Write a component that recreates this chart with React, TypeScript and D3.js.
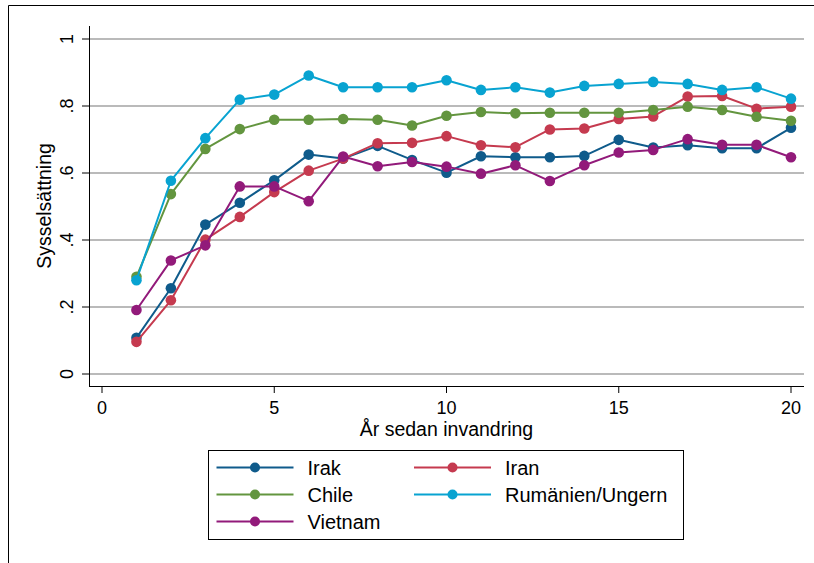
import React from "react";
import * as d3 from "d3";

const years = [1,2,3,4,5,6,7,8,9,10,11,12,13,14,15,16,17,18,19,20];
const irak = [0.108,0.256,0.446,0.511,0.578,0.655,0.643,0.681,0.639,0.601,0.650,0.647,0.647,0.651,0.699,0.676,0.683,0.674,0.674,0.735];
const iran = [0.096,0.220,0.401,0.469,0.543,0.607,0.643,0.689,0.690,0.710,0.683,0.677,0.730,0.733,0.761,0.769,0.828,0.830,0.792,0.798];
const chile = [0.290,0.537,0.672,0.731,0.759,0.759,0.761,0.759,0.742,0.771,0.782,0.778,0.780,0.780,0.780,0.788,0.798,0.788,0.768,0.756];
const rumanien = [0.280,0.577,0.704,0.819,0.834,0.891,0.856,0.856,0.856,0.877,0.848,0.856,0.840,0.860,0.866,0.872,0.866,0.848,0.856,0.822];
const vietnam = [0.191,0.339,0.384,0.560,0.560,0.516,0.649,0.620,0.633,0.619,0.598,0.623,0.576,0.623,0.661,0.669,0.701,0.684,0.684,0.647];

const seriesNames = ["Irak","Iran","Chile","Rumänien/Ungern","Vietnam"];
const seriesColors = ["#0f5b8b","#c53a4f","#63953f","#08a3d1","#921a7a"];
const seriesValues = [irak, iran, chile, rumanien, vietnam];

const xTicks = [0,5,10,15,20];
const yTicks = [0,0.2,0.4,0.6,0.8,1];
const yTickLabels = ["0",".2",".4",".6",".8","1"];
const xTitle = "År sedan invandring";
const yTitle = "Sysselsättning";

const FONT = "'Liberation Sans', Arial, sans-serif";

export default function App() {
  const W = 814, H = 563;
  const plot = { left: 89, right: 804, top: 26, bottom: 386 };
  const x = d3.scaleLinear().domain([0, 20]).range([102, 791]);
  const y = d3.scaleLinear().domain([0, 1]).range([374, 39]);
  const line = d3.line<number>().x((_, i) => x(years[i])).y(d => y(d));

  const legendItems = seriesNames.map((n, i) => ({ name: n, color: seriesColors[i], col: i % 2, row: Math.floor(i / 2) }));
  const colX = [216.5, 414];
  const rowY = [467.5, 494.5, 521.5];

  return (
    <svg width={W} height={H} style={{ position: "absolute", left: 0, top: 0, background: "#fff" }} fontFamily={FONT}>
      <rect x={0} y={0} width={W} height={H} fill="#fff" />
      <line x1={8.5} x2={W + 5} y1={5.5} y2={5.5} stroke="#000" strokeWidth={1} />
      <line x1={8.5} x2={8.5} y1={5.5} y2={H + 5} stroke="#000" strokeWidth={1} />

      {yTicks.map((t, i) => (
        <line key={"g" + i} x1={plot.left} x2={plot.right} y1={y(t)} y2={y(t)} stroke="#a3a3a3" strokeWidth={1.6} />
      ))}

      <line x1={plot.left + 0.5} x2={plot.left + 0.5} y1={plot.top} y2={plot.bottom} stroke="#000" strokeWidth={1} />
      <line x1={plot.left} x2={plot.right} y1={plot.bottom + 0.5} y2={plot.bottom + 0.5} stroke="#000" strokeWidth={1} />
      {yTicks.map((t, i) => (
        <g key={"yt" + i}>
          <line x1={plot.left - 7} x2={plot.left} y1={y(t)} y2={y(t)} stroke="#000" strokeWidth={1} />
          <text transform={`translate(${73},${y(t)}) rotate(-90)`} textAnchor="middle" fontSize={18} fill="#000">{yTickLabels[i]}</text>
        </g>
      ))}
      {xTicks.map((t, i) => (
        <g key={"xt" + i}>
          <line x1={x(t)} x2={x(t)} y1={plot.bottom} y2={plot.bottom + 7} stroke="#000" strokeWidth={1} />
          <text x={x(t)} y={414} textAnchor="middle" fontSize={18} fill="#000">{t}</text>
        </g>
      ))}
      <text x={(plot.left + plot.right) / 2} y={435.5} textAnchor="middle" fontSize={19.5} fill="#000">{xTitle}</text>
      <text transform={`translate(${51},${(plot.top + plot.bottom) / 2}) rotate(-90)`} textAnchor="middle" fontSize={19.5} fill="#000">{yTitle}</text>

      {seriesValues.map((vals, si) => (
        <g key={"s" + si}>
          <path d={line(vals) || ""} fill="none" stroke={seriesColors[si]} strokeWidth={2} strokeLinejoin="round" />
          {vals.map((v, i) => (
            <circle key={i} cx={x(years[i])} cy={y(v)} r={5.3} fill={seriesColors[si]} />
          ))}
        </g>
      ))}

      <rect x={208.5} y={450.5} width={475} height={89} fill="#fff" stroke="#000" strokeWidth={1} />
      {legendItems.map((it, i) => {
        const lx = colX[it.col];
        const ly = rowY[it.row];
        return (
          <g key={"l" + i}>
            <line x1={lx} x2={lx + 77} y1={ly} y2={ly} stroke={it.color} strokeWidth={2} />
            <circle cx={lx + 38.5} cy={ly} r={5} fill={it.color} />
            <text x={lx + 91} y={ly + 7.5} fontSize={20} fill="#000">{it.name}</text>
          </g>
        );
      })}
    </svg>
  );
}
